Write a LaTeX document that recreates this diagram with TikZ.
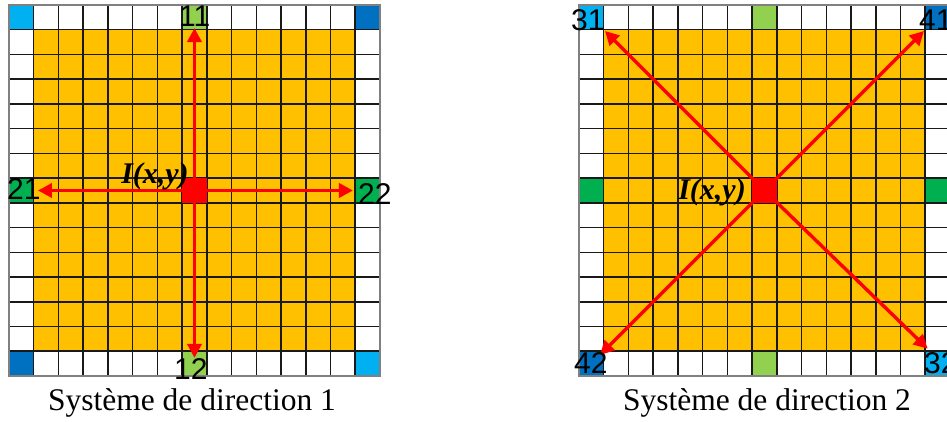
\documentclass[tikz,border=0pt]{standalone}
\usepackage{fontspec}
\setmainfont{Liberation Serif}
\newfontfamily\arialf{Liberation Sans}
\usetikzlibrary{arrows.meta}
\definecolor{orng}{HTML}{FFC000}
\definecolor{lblue}{HTML}{00B0F0}
\definecolor{dblue}{HTML}{0070C0}
\definecolor{lgreen}{HTML}{92D050}
\definecolor{dgreen}{HTML}{00B050}
\definecolor{redc}{HTML}{FF0000}
\tikzset{
  gridline/.style={draw=black!90, line width=1.5pt},
  outerline/.style={draw=black!50, line width=1.5pt},
  redsq/.style={fill=redc, draw=none, minimum size=24.73pt, inner sep=0pt},
  arr/.style={draw=redc, line width=3.4pt, -{Triangle[length=14pt,width=14pt]}},
  numlab/.style={font=\arialf\fontsize{30}{30}\selectfont, inner sep=0pt, anchor=west},
  ixy/.style={font=\fontsize{30}{30}\selectfont\bfseries\itshape, inner sep=0pt},
  caption/.style={font=\fontsize{31.5}{36}\selectfont, inner sep=0pt, anchor=base}
}
\begin{document}
\begin{tikzpicture}[x=1pt,y=-1pt]
\useasboundingbox (0,0) rectangle (947,421);
% ---------- left grid ----------
\begin{scope}[shift={(9,5)}, x=24.73pt, y=-24.73pt]
  \fill[orng] (1,1) rectangle (14,14);
  \fill[lblue] (0,0) rectangle (1,1);
  \fill[dblue] (14,0) rectangle (15,1);
  \fill[dblue] (0,14) rectangle (1,15);
  \fill[lblue] (14,14) rectangle (15,15);
  \fill[lgreen] (7,0) rectangle (8,1);
  \fill[lgreen] (7,14) rectangle (8,15);
  \fill[dgreen] (0,7) rectangle (1,8);
  \fill[dgreen] (14,7) rectangle (15,8);
  \foreach \k in {1,...,14} {
    \draw[gridline] (\k,0) -- (\k,15);
    \draw[gridline] (0,\k) -- (15,\k);
  }
  \draw[outerline] (0,0) rectangle (15,15);
  \node[redsq] (cL) at (7.5,7.5) {};
  \coordinate (t11) at (7.5,0.93);
  \coordinate (t12) at (7.5,14.27);
  \coordinate (t21) at (1.17,7.5);
  \coordinate (t22) at (13.91,7.5);
  \draw[arr] (cL.center) -- (t11);
  \draw[arr] (cL.center) -- (t12);
  \draw[arr] (cL.center) -- (t21);
  \draw[arr] (cL.center) -- (t22);
\end{scope}
% ---------- right grid ----------
\begin{scope}[shift={(579,5)}, x=24.73pt, y=-24.73pt]
  \fill[orng] (1,1) rectangle (14,14);
  \fill[lblue] (0,0) rectangle (1,1);
  \fill[dblue] (14,0) rectangle (15,1);
  \fill[dblue] (0,14) rectangle (1,15);
  \fill[lblue] (14,14) rectangle (15,15);
  \fill[lgreen] (7,0) rectangle (8,1);
  \fill[lgreen] (7,14) rectangle (8,15);
  \fill[dgreen] (0,7) rectangle (1,8);
  \fill[dgreen] (14,7) rectangle (15,8);
  \foreach \k in {1,...,14} {
    \draw[gridline] (\k,0) -- (\k,15);
    \draw[gridline] (0,\k) -- (15,\k);
  }
  \draw[outerline] (0,0) rectangle (15,15);
  \node[redsq] (cR) at (7.5,7.5) {};
  \coordinate (t31) at (1.05,1.05);
  \coordinate (t41) at (13.95,1.05);
  \coordinate (t42) at (0.85,14.15);
  \coordinate (t32) at (14.1,13.9);
  \draw[arr] (cR.center) -- (t31);
  \draw[arr] (cR.center) -- (t41);
  \draw[arr] (cR.center) -- (t42);
  \draw[arr] (cR.center) -- (t32);
\end{scope}
% ---------- labels ----------
\node[numlab] (l11) at (179,16) {11};
\node[numlab] (l12) at (174,369) {12};
\node[numlab] (l21) at (7,189) {21};
\node[numlab] (l22) at (358,194) {22};
\node[numlab] (l31) at (571,20) {31};
\node[numlab] (l41) at (919,20) {41};
\node[numlab] (l42) at (574,363) {42};
\node[numlab] (l32) at (924,363) {32};
\node[ixy] (iL) at (155,176) {I(x,y)};
\node[ixy] (iR) at (712,192) {I(x,y)};
\node[caption] (capL) at (192,410) {Système de direction 1};
\node[caption] (capR) at (767,410) {Système de direction 2};
\end{tikzpicture}
\end{document}
